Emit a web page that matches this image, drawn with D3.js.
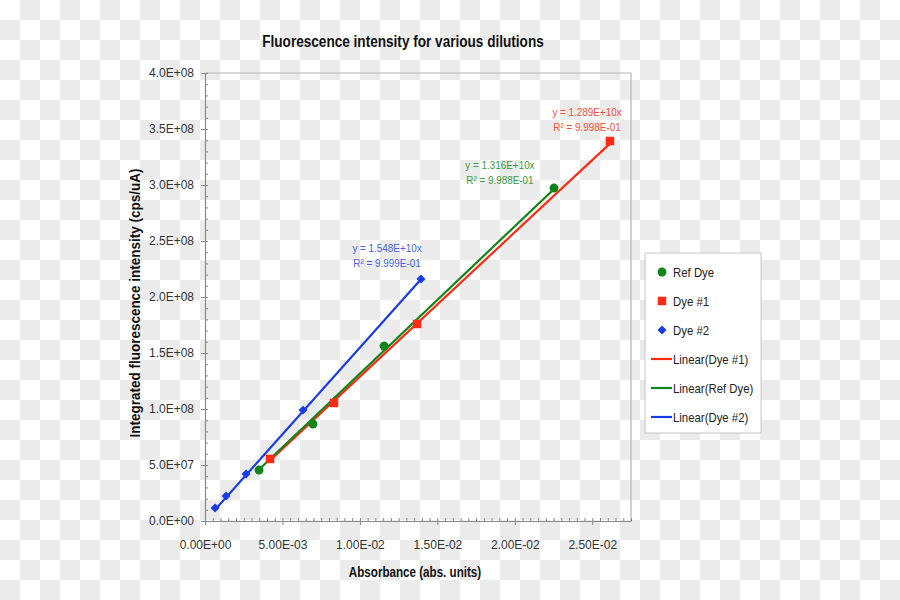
<!DOCTYPE html>
<html>
<head>
<meta charset="utf-8">
<script src="https://cdn.jsdelivr.net/npm/d3@7"></script>
<style>
  html, body { margin: 0; padding: 0; }
  svg { display: block; font-family: "Liberation Sans", Arial, sans-serif; }
</style>
</head>
<body>
<svg id="chart" width="900" height="600"></svg>
<script>
// ---------- data ----------
const seriesNames = ["Ref Dye", "Dye #1", "Dye #2"];
const refDyeX = [0.00349, 0.00697, 0.01156, 0.02253];
const refDyeY = [4.55e7, 8.66e7, 1.5625e8, 2.973e8];
const dye1X = [0.00420, 0.00833, 0.01369, 0.02614];
const dye1Y = [5.54e7, 1.054e8, 1.759e8, 3.393e8];
const dye2X = [0.00065, 0.00136, 0.00265, 0.00633, 0.01394];
const dye2Y = [1.16e7, 2.23e7, 4.20e7, 9.90e7, 2.16e8];
const trendSlopes = [1.316e10, 1.289e10, 1.548e10];
const trendEquations = ["y = 1.316E+10x", "y = 1.289E+10x", "y = 1.548E+10x"];
const trendR2 = ["R² = 9.988E-01", "R² = 9.998E-01", "R² = 9.999E-01"];
const legendLabels = ["Ref Dye", "Dye #1", "Dye #2", "Linear(Dye #1)", "Linear(Ref Dye)", "Linear(Dye #2)"];
const xTickValues = [0, 0.005, 0.010, 0.015, 0.020, 0.025];
const xTickLabels = ["0.00E+00", "5.00E-03", "1.00E-02", "1.50E-02", "2.00E-02", "2.50E-02"];
const yTickValues = [0, 5e7, 1e8, 1.5e8, 2e8, 2.5e8, 3e8, 3.5e8, 4e8];
const yTickLabels = ["0.0E+00", "5.0E+07", "1.0E+08", "1.5E+08", "2.0E+08", "2.5E+08", "3.0E+08", "3.5E+08", "4.0E+08"];
const titleText = "Fluorescence intensity for various dilutions";
const xTitle = "Absorbance (abs. units)";
const yTitle = "Integrated fluorescence intensity (cps/uA)";

// ---------- layout ----------
const svg = d3.select("#chart");
const L = 205, R = 631, T = 73, B = 521;
const x = d3.scaleLinear().domain([0, 0.0275]).range([L, R]);
const y = d3.scaleLinear().domain([0, 4e8]).range([B, T]);

const colors = { ref: "#12851a", d1: "#ff2a14", d2: "#1a3be8" };
const textColors = { ref: "#3a9a3a", d1: "#ff4a35", d2: "#4561e6" };

// checkerboard background
const defs = svg.append("defs");
const pat = defs.append("pattern").attr("id", "checker").attr("width", 40).attr("height", 40)
  .attr("patternUnits", "userSpaceOnUse");
pat.append("rect").attr("width", 40).attr("height", 40).attr("fill", "#ffffff");
pat.append("rect").attr("x", 20).attr("y", 0).attr("width", 20).attr("height", 20).attr("fill", "#ebebeb");
pat.append("rect").attr("x", 0).attr("y", 20).attr("width", 20).attr("height", 20).attr("fill", "#ebebeb");
svg.append("rect").attr("width", 900).attr("height", 600).attr("fill", "url(#checker)");

// helper for condensed text
function ctext(g, tx, ty, str, opts) {
  const sx = opts.sx || 1;
  return g.append("text")
    .attr("transform", `translate(${tx},${ty})${opts.rot ? " rotate(" + opts.rot + ")" : ""} scale(${sx},1)`)
    .attr("text-anchor", opts.anchor || "middle")
    .attr("font-size", opts.size)
    .attr("font-weight", opts.bold ? "bold" : "normal")
    .attr("fill", opts.fill || "#222")
    .text(str);
}

// frame (top and right)
svg.append("path")
  .attr("d", `M${L},${T}H${R}V${B}`)
  .attr("fill", "none").attr("stroke", "#b5b5b5").attr("stroke-width", 1.2);

// y-axis minor ticks (inside)
const yMinor = d3.range(0, 4e8 + 1, 1e7);
svg.append("g").attr("transform", `translate(${L},0)`)
  .call(d3.axisRight(y).tickValues(yMinor).tickSize(3).tickFormat(""))
  .call(g => g.select(".domain").remove())
  .call(g => g.selectAll("line").attr("stroke", "#8a8a8a"));
// y-axis major
svg.append("g").attr("transform", `translate(${L},0)`)
  .call(d3.axisLeft(y).tickValues(yTickValues).tickSize(4).tickPadding(7).tickSizeOuter(0)
    .tickFormat((d, i) => yTickLabels[i]))
  .call(g => g.select(".domain").attr("stroke", "#8a8a8a").attr("stroke-width", 1.2))
  .call(g => g.selectAll("line").attr("stroke", "#8a8a8a"))
  .call(g => g.selectAll("text").attr("font-size", 12).attr("fill", "#333")
    .attr("font-family", "'Liberation Sans', Arial, sans-serif"));

// x-axis minor ticks (inside)
const xMinor = d3.range(0, 0.02751, 0.0005);
svg.append("g").attr("transform", `translate(0,${B})`)
  .call(d3.axisTop(x).tickValues(xMinor).tickSize(3).tickFormat(""))
  .call(g => g.select(".domain").remove())
  .call(g => g.selectAll("line").attr("stroke", "#8a8a8a"));
// x-axis major
svg.append("g").attr("transform", `translate(0,${B})`)
  .call(d3.axisBottom(x).tickValues(xTickValues).tickSize(4).tickPadding(15).tickSizeOuter(0)
    .tickFormat((d, i) => xTickLabels[i]))
  .call(g => g.select(".domain").attr("stroke", "#8a8a8a").attr("stroke-width", 1.2))
  .call(g => g.selectAll("line").attr("stroke", "#8a8a8a"))
  .call(g => g.selectAll("text").attr("font-size", 12).attr("fill", "#333")
    .attr("font-family", "'Liberation Sans', Arial, sans-serif"));

// titles
ctext(svg, 403, 47, titleText, { size: 17, bold: true, sx: 0.8, fill: "#111" });
ctext(svg, 415, 577, xTitle, { size: 14, bold: true, sx: 0.83, fill: "#111" });
ctext(svg, 140, 303, yTitle, { size: 14.5, bold: true, sx: 0.93, rot: -90, fill: "#111" });

// series
const diamond = { draw(ctx, size) { const r = Math.sqrt(size) / 2 * Math.SQRT2; ctx.moveTo(0, -r); ctx.lineTo(r, 0); ctx.lineTo(0, r); ctx.lineTo(-r, 0); ctx.closePath(); } };
const series = [
  { key: "ref", xs: refDyeX, ys: refDyeY, slope: trendSlopes[0], eq: trendEquations[0], r2: trendR2[0], sym: d3.symbolCircle, size: 62 },
  { key: "d1", xs: dye1X, ys: dye1Y, slope: trendSlopes[1], eq: trendEquations[1], r2: trendR2[1], sym: d3.symbolSquare, size: 72 },
  { key: "d2", xs: dye2X, ys: dye2Y, slope: trendSlopes[2], eq: trendEquations[2], r2: trendR2[2], sym: diamond, size: 40 }
];

// trend lines: Dye #1, Ref Dye, Dye #2 (legend order)
const lineGen = d3.line().x(d => x(d[0])).y(d => y(d[1]));
[series[1], series[0], series[2]].forEach(s => {
  const x0 = d3.min(s.xs), x1 = d3.max(s.xs);
  svg.append("path")
    .attr("d", lineGen([[x0, s.slope * x0], [x1, s.slope * x1]]))
    .attr("stroke", colors[s.key]).attr("stroke-width", 2.2).attr("fill", "none");
});

// markers
series.forEach(s => {
  svg.append("g").selectAll("path").data(s.xs.map((v, i) => [v, s.ys[i]])).join("path")
    .attr("transform", d => `translate(${x(d[0])},${y(d[1])})`)
    .attr("d", d3.symbol().type(s.sym).size(s.size))
    .attr("fill", colors[s.key]);
});

// trendline annotations (anchored in data units)
const annot = [
  { s: series[0], ax: 0.01904, ay: 3.143e8 },
  { s: series[1], ax: 0.02466, ay: 3.616e8 },
  { s: series[2], ax: 0.01175, ay: 2.402e8 }
];
annot.forEach(a => {
  ctext(svg, x(a.ax), y(a.ay), a.s.eq, { size: 11.5, sx: 0.86, fill: textColors[a.s.key] });
  ctext(svg, x(a.ax), y(a.ay) + 15, a.s.r2, { size: 11.5, sx: 0.86, fill: textColors[a.s.key] });
});

// legend
const lg = svg.append("g").attr("transform", "translate(645,253)");
lg.append("rect").attr("width", 116).attr("height", 180)
  .attr("fill", "#ffffff").attr("stroke", "#c8c8c8").attr("stroke-width", 1);
const legendItems = [
  { type: "sym", s: series[0] },
  { type: "sym", s: series[1] },
  { type: "sym", s: series[2] },
  { type: "line", s: series[1] },
  { type: "line", s: series[0] },
  { type: "line", s: series[2] }
];
legendItems.forEach((it, i) => {
  const cy = 19 + i * 29;
  if (it.type === "sym") {
    lg.append("path").attr("transform", `translate(17,${cy})`)
      .attr("d", d3.symbol().type(it.s.sym).size(it.s.size)).attr("fill", colors[it.s.key]);
  } else {
    lg.append("line").attr("x1", 6).attr("x2", 27).attr("y1", cy).attr("y2", cy)
      .attr("stroke", colors[it.s.key]).attr("stroke-width", 2.2);
  }
  ctext(lg, 28, cy + 4.5, legendLabels[i], { size: 12, sx: 0.95, anchor: "start", fill: "#222" });
});
</script>
</body>
</html>
